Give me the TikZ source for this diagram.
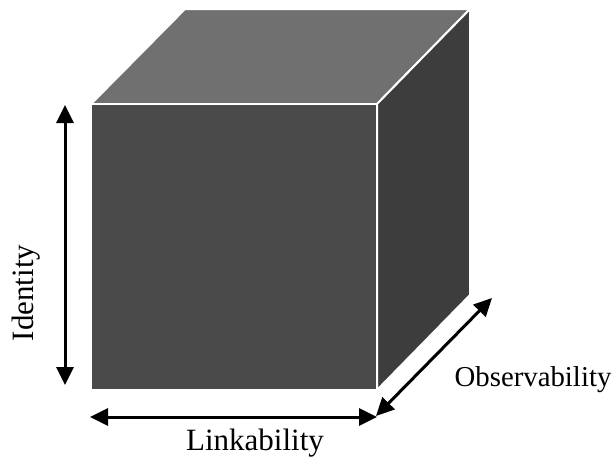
\documentclass[tikz,border=0pt]{standalone}
\usepackage{fontspec}
\setmainfont{Liberation Serif}
\usetikzlibrary{arrows.meta}

\definecolor{frontgray}{RGB}{74,74,74}
\definecolor{topgray}{RGB}{112,112,112}
\definecolor{sidegray}{RGB}{61,61,61}

\begin{document}
\begin{tikzpicture}[x=0.5pt, y=-0.5pt,
	face/.style={draw=white, line width=1pt, line join=round},
	axis/.style={line width=1.5pt, {Triangle[length=9pt,width=8.5pt]}-{Triangle[length=9pt,width=8.5pt]}},
	lbl/.style={font=\fontsize{15.5}{18}\selectfont}]
	\useasboundingbox (0,0) rectangle (613,461);
	% cube corners
	\coordinate (ftl) at (91,104);
	\coordinate (ftr) at (377,104);
	\coordinate (fbr) at (377,390);
	\coordinate (fbl) at (91,390);
	\coordinate (btl) at (185,9);
	\coordinate (btr) at (470,9);
	\coordinate (bbr) at (470,295);
	% faces
	\filldraw[face, fill=topgray] (ftl) -- (btl) -- (btr) -- (ftr) -- cycle;
	\filldraw[face, fill=sidegray] (ftr) -- (btr) -- (bbr) -- (fbr) -- cycle;
	\filldraw[face, fill=frontgray] (ftl) -- (ftr) -- (fbr) -- (fbl) -- cycle;
	% axes
	\coordinate (idtop) at (65,105);
	\coordinate (idbot) at (65,385);
	\coordinate (lkleft) at (90,417);
	\coordinate (lkright) at (377,417);
	\coordinate (obnear) at (376,416);
	\coordinate (obfar) at (492,298);
	\draw[axis] (idbot) -- (idtop);
	\draw[axis] (lkleft) -- (lkright);
	\draw[axis] (obnear) -- (obfar);
	\node[lbl, rotate=90] (identity) at (26,293) {Identity};
	\node[lbl] (linkability) at (255,443) {Linkability};
	\node[lbl, font=\fontsize{14.4}{17}\selectfont] (observability) at (533,380) {Observability};
\end{tikzpicture}
\end{document}
